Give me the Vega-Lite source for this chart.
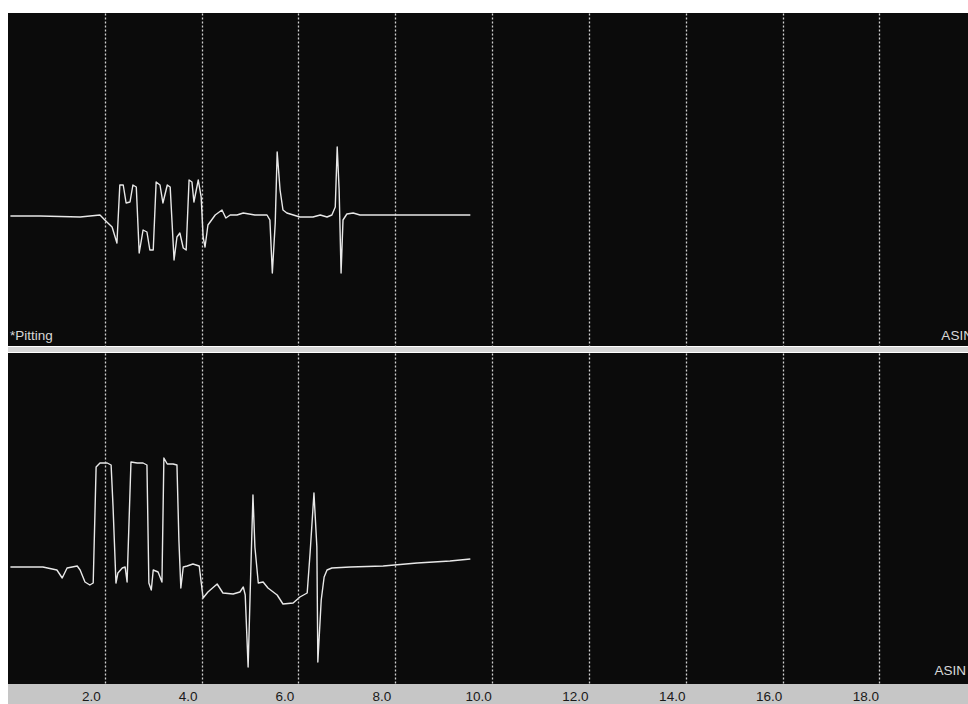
{
  "$schema": "https://vega.github.io/schema/vega-lite/v6.json",
  "background": "#ffffff",
  "padding": {"left": 8, "top": 13, "right": 0, "bottom": 0},
  "spacing": 7,
  "bounds": "flush",
  "config": {"view": {"stroke": null, "fill": "#0b0b0b"}, "font": "Liberation Sans"},
  "datasets": {
    "top": [
      {"t":0.05,"v":-0.01},{"t":0.66,"v":-0.01},{"t":1.49,"v":-0.02},{"t":1.9,"v":0},{"t":2.0,"v":-0.05},{"t":2.15,"v":-0.12},{"t":2.25,"v":-0.28},{"t":2.31,"v":0.3},{"t":2.38,"v":0.3},{"t":2.44,"v":0.12},{"t":2.52,"v":0.13},{"t":2.58,"v":0.3},{"t":2.65,"v":0.28},{"t":2.71,"v":-0.38},{"t":2.79,"v":-0.15},{"t":2.87,"v":-0.17},{"t":2.93,"v":-0.35},{"t":3.0,"v":-0.35},{"t":3.06,"v":0.33},{"t":3.14,"v":0.3},{"t":3.2,"v":0.12},{"t":3.29,"v":0.3},{"t":3.35,"v":0.28},{"t":3.43,"v":-0.45},{"t":3.49,"v":-0.22},{"t":3.55,"v":-0.18},{"t":3.62,"v":-0.33},{"t":3.68,"v":-0.35},{"t":3.74,"v":0.35},{"t":3.8,"v":0.33},{"t":3.84,"v":0.13},{"t":3.93,"v":0.35},{"t":3.99,"v":0.18},{"t":4.03,"v":-0.22},{"t":4.07,"v":-0.32},{"t":4.13,"v":-0.1},{"t":4.28,"v":0},{"t":4.42,"v":0.05},{"t":4.5,"v":-0.03},{"t":4.59,"v":0},{"t":4.73,"v":0},{"t":4.86,"v":0.02},{"t":5.1,"v":0},{"t":5.35,"v":0},{"t":5.41,"v":-0.05},{"t":5.46,"v":-0.58},{"t":5.52,"v":-0.08},{"t":5.56,"v":0.63},{"t":5.62,"v":0.25},{"t":5.68,"v":0.05},{"t":5.76,"v":0.02},{"t":6.03,"v":-0.02},{"t":6.3,"v":-0.02},{"t":6.45,"v":0},{"t":6.59,"v":-0.02},{"t":6.69,"v":0},{"t":6.76,"v":0.08},{"t":6.8,"v":0.68},{"t":6.84,"v":0.25},{"t":6.88,"v":-0.58},{"t":6.92,"v":-0.05},{"t":7.0,"v":0.01},{"t":7.13,"v":0.02},{"t":7.27,"v":0},{"t":8.1,"v":0},{"t":9.55,"v":0}
    ],
    "bottom": [
      {"t":0.05,"v":0},{"t":0.72,"v":0},{"t":1.01,"v":-0.03},{"t":1.12,"v":-0.11},{"t":1.22,"v":-0.01},{"t":1.43,"v":0.01},{"t":1.49,"v":-0.03},{"t":1.59,"v":-0.15},{"t":1.69,"v":-0.18},{"t":1.76,"v":-0.16},{"t":1.82,"v":1.0},{"t":1.9,"v":1.04},{"t":2.05,"v":1.04},{"t":2.13,"v":1.02},{"t":2.17,"v":0.6},{"t":2.23,"v":-0.16},{"t":2.27,"v":-0.06},{"t":2.36,"v":-0.01},{"t":2.42,"v":0},{"t":2.46,"v":-0.15},{"t":2.54,"v":1.05},{"t":2.67,"v":1.04},{"t":2.79,"v":1.04},{"t":2.87,"v":1.02},{"t":2.91,"v":-0.16},{"t":2.96,"v":-0.23},{"t":3.0,"v":-0.03},{"t":3.1,"v":-0.05},{"t":3.18,"v":-0.15},{"t":3.22,"v":1.09},{"t":3.29,"v":1.03},{"t":3.41,"v":1.03},{"t":3.49,"v":1.02},{"t":3.53,"v":0.27},{"t":3.57,"v":-0.21},{"t":3.62,"v":0},{"t":3.7,"v":0.01},{"t":3.82,"v":0.03},{"t":3.95,"v":0.01},{"t":4.03,"v":-0.31},{"t":4.13,"v":-0.25},{"t":4.32,"v":-0.17},{"t":4.44,"v":-0.26},{"t":4.65,"v":-0.27},{"t":4.79,"v":-0.25},{"t":4.86,"v":-0.2},{"t":4.9,"v":-0.28},{"t":4.96,"v":-1.0},{"t":5.0,"v":-0.3},{"t":5.06,"v":0.72},{"t":5.1,"v":0.2},{"t":5.17,"v":-0.16},{"t":5.27,"v":-0.15},{"t":5.37,"v":-0.21},{"t":5.56,"v":-0.28},{"t":5.68,"v":-0.37},{"t":5.89,"v":-0.36},{"t":6.03,"v":-0.3},{"t":6.18,"v":-0.26},{"t":6.24,"v":0.14},{"t":6.32,"v":0.74},{"t":6.38,"v":0.2},{"t":6.4,"v":-0.95},{"t":6.47,"v":-0.33},{"t":6.53,"v":-0.1},{"t":6.59,"v":-0.03},{"t":6.69,"v":-0.01},{"t":7.07,"v":0},{"t":7.75,"v":0.01},{"t":8.45,"v":0.04},{"t":9.13,"v":0.06},{"t":9.55,"v":0.08}
    ]
  },
  "vconcat": [
    {
      "width": 960,
      "height": 333,
      "layer": [
        {
          "data": {"name": "top"},
          "mark": {"type": "line", "color": "#e8e8e8", "strokeWidth": 1.4, "strokeJoin": "round"},
          "encoding": {
            "x": {"field": "t", "type": "quantitative",
                  "scale": {"domain": [0, 19.83], "nice": false, "zero": false},
                  "axis": {"orient": "bottom", "values": [2,4,6,8,10,12,14,16,18], "grid": true,
                           "gridDash": [2,2], "gridColor": "#d0d0d0", "gridWidth": 1.3,
                           "labels": false, "ticks": false, "tickSize": 0, "title": null,
                           "domain": false}},
            "y": {"field": "v", "type": "quantitative",
                  "scale": {"domain": [-1.31, 2.02], "nice": false, "zero": false}, "axis": null}
          }
        },
        {
          "data": {"values": [{}]},
          "mark": {"type": "rect", "color": "#d6d6d6"},
          "encoding": {"x": {"datum": 0, "type": "quantitative"}, "x2": {"datum": 19.83},
                       "y": {"datum": -1.32, "type": "quantitative"}, "y2": {"datum": -1.37}}
        },
        {
          "data": {"values": [{}]},
          "mark": {"type": "text", "text": "*Pitting", "align": "left", "baseline": "bottom", "dx": 2, "dy": -3, "fontSize": 13.5, "color": "#d8d8d8"},
          "encoding": {"x": {"datum": 0, "type": "quantitative"}, "y": {"datum": -1.31, "type": "quantitative"}}
        },
        {
          "data": {"values": [{}]},
          "mark": {"type": "text", "text": "ASIN", "align": "left", "baseline": "bottom", "dy": -3, "fontSize": 13.5, "color": "#d8d8d8", "clip": true},
          "encoding": {"x": {"datum": 19.28, "type": "quantitative"}, "y": {"datum": -1.31, "type": "quantitative"}}
        }
      ]
    },
    {
      "width": 960,
      "height": 331,
      "layer": [
        {
          "data": {"name": "bottom"},
          "mark": {"type": "line", "color": "#e8e8e8", "strokeWidth": 1.4, "strokeJoin": "round"},
          "encoding": {
            "x": {"field": "t", "type": "quantitative",
                  "scale": {"domain": [0, 19.83], "nice": false, "zero": false},
                  "axis": {"orient": "bottom", "values": [2,4,6,8,10,12,14,16,18], "grid": true,
                           "gridDash": [2,2], "gridColor": "#d0d0d0", "gridWidth": 1.3,
                           "format": ".1f", "labelOffset": -14, "labelBaseline": "middle", "labelPadding": 12,
                           "labelFontSize": 13.5, "labelColor": "#1a1a1a", "labelFont": "Liberation Sans",
                           "ticks": false, "tickSize": 0, "title": null, "zindex": 1,
                           "domain": false}},
            "y": {"field": "v", "type": "quantitative",
                  "scale": {"domain": [-1.17, 2.14], "nice": false, "zero": false}, "axis": null}
          }
        },
        {
          "data": {"values": [{}]},
          "mark": {"type": "rect", "color": "#c6c6c6"},
          "encoding": {"x": {"datum": 0, "type": "quantitative"}, "x2": {"datum": 19.83},
                       "y": {"datum": -1.17, "type": "quantitative"}, "y2": {"datum": -1.37}}
        },
        {
          "data": {"values": [{}]},
          "mark": {"type": "text", "text": "ASIN", "align": "right", "baseline": "bottom", "dx": -2, "dy": -6, "fontSize": 13.5, "color": "#d8d8d8"},
          "encoding": {"x": {"datum": 19.83, "type": "quantitative"}, "y": {"datum": -1.17, "type": "quantitative"}}
        }
      ]
    }
  ]
}
